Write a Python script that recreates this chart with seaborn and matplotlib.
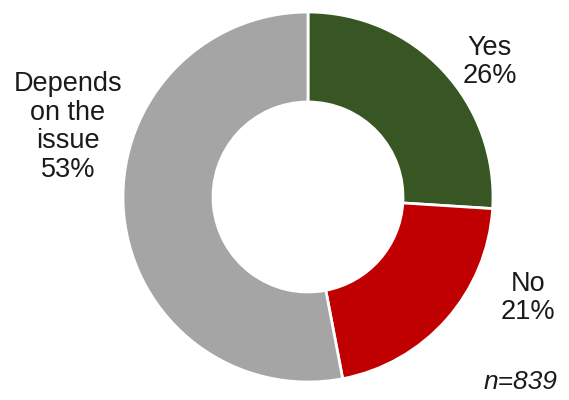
import matplotlib
matplotlib.use("Agg")
import matplotlib.pyplot as plt
import seaborn as sns

# Survey response shares
categories = ["Yes", "No", "Depends\non the\nissue"]
shares = [26, 21, 53]
colors = ["#375623", "#C00000", "#A5A5A5"]
sample_note = "n=839"

# Label anchor points (pixel coordinates, y measured from top)
label_pos = [(490, 62), (528, 298), (68, 127)]

sns.set_theme(style="white")
plt.rcParams["font.family"] = ["Liberation Sans", "DejaVu Sans"]

W, H = 569, 400
fig = plt.figure(figsize=(W / 100, H / 100), dpi=100)
ax = fig.add_axes([0, 0, 1, 1])

cx, cy = 308, H - 197
outer_r = 185
ring_w = 90

ax.pie(
    shares,
    colors=colors,
    startangle=90,
    counterclock=False,
    center=(cx, cy),
    radius=outer_r,
    wedgeprops=dict(width=ring_w, edgecolor="white", linewidth=2),
    frame=True,
)
ax.set_xlim(0, W)
ax.set_ylim(0, H)
ax.set_aspect("equal")
ax.axis("off")

for cat, val, (px, py) in zip(categories, shares, label_pos):
    ax.text(px, H - py, f"{cat}\n{val}%", ha="center", va="center",
            fontsize=19.5, color="#1a1a1a", linespacing=1.12)

ax.text(521, H - 382, sample_note, ha="center", va="center",
        fontsize=19, style="italic", color="#1a1a1a")

fig.savefig("out.png", dpi=100)
